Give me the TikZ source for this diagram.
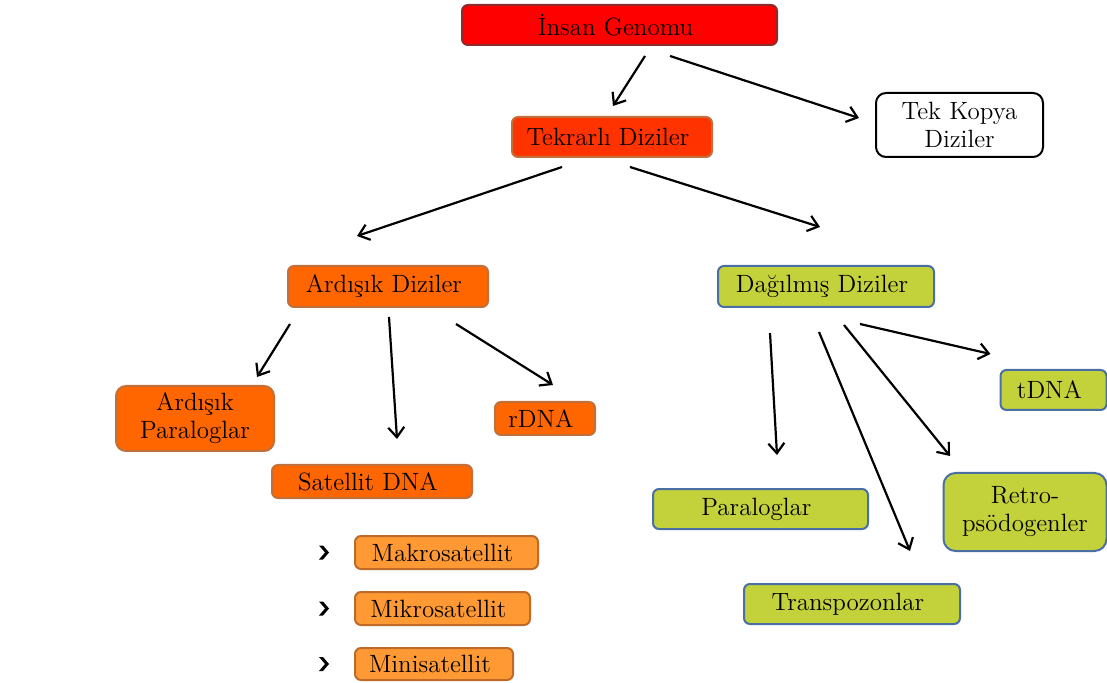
\documentclass[tikz,border=0pt]{standalone}
\usepackage{tikz}
\usetikzlibrary{arrows.meta,positioning,calc}
\definecolor{genred}{HTML}{FF0000}
\definecolor{genredline}{HTML}{8E2B2B}
\definecolor{tekfill}{HTML}{FF3300}
\definecolor{orfill}{HTML}{FF6600}
\definecolor{orline}{HTML}{C0703A}
\definecolor{ltfill}{HTML}{FF9933}
\definecolor{ltline}{HTML}{C06A2A}
\definecolor{grfill}{HTML}{C3D13B}
\definecolor{grline}{HTML}{4A6FA5}
\tikzset{
    box/.style={
        rectangle,
        rounded corners=3pt,
        line width=1pt,
        align=center,
        inner sep=2pt,
        font=\fontsize{12.5}{14}\selectfont,
    },
    redbox/.style={box, draw=genredline, fill=genred},
    tekbox/.style={box, draw=orline, fill=tekfill},
    orbox/.style={box, draw=orline, fill=orfill},
    ltbox/.style={box, draw=ltline, fill=ltfill},
    grbox/.style={box, draw=grline, fill=grfill},
    whbox/.style={box, draw=black, fill=white, rounded corners=5pt},
}

\begin{document}
\begin{tikzpicture}[
    x=0.5pt,
    y=-0.5pt,
    line width=1.1pt,
    >={Straight Barb[length=5pt,width=8pt]}]

\useasboundingbox (0,0) rectangle (1107,683);

% Insan Genomu
\node
[
    redbox,
    minimum width=157.5pt,
    minimum height=20pt
] (insan) at (619.5,25)
{
    İnsan Genomu
};
% Tekrarli Diziler
\node
[
    tekbox,
    minimum width=100pt,
    minimum height=20pt
] (tekrar) at (612,137)
{
    Tekrarlı Diziler
};
% Tek Kopya Diziler
\node
[
    whbox,
    minimum width=83.5pt,
    minimum height=32pt
] (tekkopya) at (959.5,125)
{
    Tek Kopya \\ Diziler
};
% Ardisik Diziler
\node
[
    orbox,
    minimum width=100pt,
    minimum height=20.5pt
] (ardisik) at (388,286.5)
{
    Ardışık Diziler
};
% Dagilmis Diziler
\node
[
    grbox,
    minimum width=108pt,
    minimum height=20.5pt
] (dagilmis) at (826,286.5)
{
    Dağılmış Diziler
};
% Ardisik Paraloglar
\node
[
    orbox,
    rounded corners=5pt,
    minimum width=79pt,
    minimum height=32.5pt
] (ardpar) at (195,418.5)
{
    Ardışık \\ Paraloglar
};
% rDNA
\node
[
    orbox,
    minimum width=50pt,
    minimum height=16.5pt
] (rdna) at (545,418.5)
{
    rDNA
};
% Satellit DNA
\node
[
    orbox,
    minimum width=100pt,
    minimum height=16.5pt
] (satellit) at (372,481.5)
{
    Satellit DNA
};
% Makrosatellit
\node
[
    ltbox,
    minimum width=91.5pt,
    minimum height=16.5pt
] (makro) at (446.5,552.5)
{
    Makrosatellit
};
% Mikrosatellit
\node
[
    ltbox,
    minimum width=87.5pt,
    minimum height=16.5pt
] (mikro) at (442.5,608.5)
{
    Mikrosatellit
};
% Minisatellit
\node
[
    ltbox,
    minimum width=79pt,
    minimum height=16pt
] (mini) at (434,664)
{
    Minisatellit
};
% tDNA
\node
[
    grbox,
    minimum width=53pt,
    minimum height=20pt
] (tdna) at (1053.5,390)
{
    tDNA
};
% Paraloglar
\node
[
    grbox,
    minimum width=107.5pt,
    minimum height=20pt
] (paraloglar) at (760.5,509)
{
    Paraloglar
};
% Retro-psodogenler
\node
[
    grbox,
    rounded corners=6pt,
    minimum width=81.5pt,
    minimum height=39pt
] (retro) at (1025,512)
{
    Retro- \\ psödogenler
};
% Transpozonlar
\node
[
    grbox,
    minimum width=108pt,
    minimum height=20pt
] (transp) at (852,604)
{
    Transpozonlar
};

% bullets
\foreach \n in {makro,mikro,mini}
    \fill ($(\n.west)+(-30,0)$) ++(-5,-7) -- ++(4,0) -- ++(6,7)
        -- ++(-6,7) -- ++(-4,0) -- ++(6,-7) -- cycle;

% Transitions
\draw [->] ($(insan.south)+(25.5,10)$) -- ($(tekrar.north)+(1,-10)$);
\draw [->] ($(insan.south)+(50.5,10)$) -- ($(tekkopya.west)+(-16,-7)$);
\draw [->] ($(tekrar.south)+(-50,9)$) -- ($(ardisik.north)+(-31,-29)$);
\draw [->] ($(tekrar.south)+(18,9)$) -- ($(dagilmis.north)+(-6,-38)$);
\draw [->] ($(ardisik.south)+(-98,16)$) -- ($(ardpar.north)+(62,-8)$);
\draw [->] ($(ardisik.south)+(1,9)$) -- ($(satellit.north)+(25,-25)$);
\draw [->] ($(ardisik.south)+(68,16)$) -- ($(rdna.north)+(8,-16)$);
\draw [->] ($(dagilmis.south)+(-56,25)$) -- ($(paraloglar.north)+(16.5,-33)$);
\draw [->] ($(dagilmis.south)+(-7,24)$) -- ($(transp.north)+(58,-32)$);
\draw [->] ($(dagilmis.south)+(18,17)$) -- ($(retro.north)+(-75,-16)$);
\draw [->] ($(dagilmis.south)+(34,16)$) -- ($(tdna.west)+(-9,-36)$);

\end{tikzpicture}
\end{document}
